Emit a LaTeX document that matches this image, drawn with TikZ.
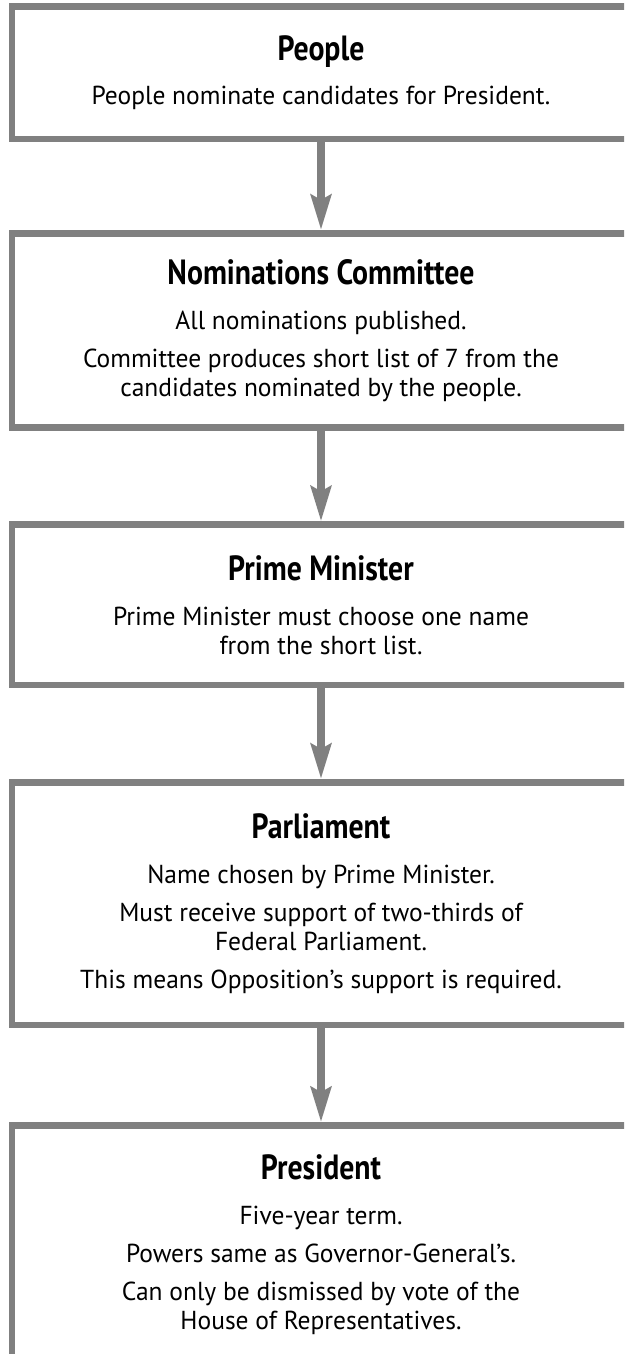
\documentclass[tikz,border=0pt]{standalone}
\usepackage{fontspec}
\setmainfont{PT Sans}[FakeStretch=0.98, BoldFeatures={FakeStretch=0.85}]
\usepackage{tikz}
\usetikzlibrary{arrows.meta}

\newcommand{\ttl}[1]{{\fontsize{35}{40}\selectfont\bfseries #1}}

\begin{document}
\begin{tikzpicture}[
    x=1pt, y=1pt,
    box/.style={draw=gray, line width=6.5pt, minimum width=618pt,
                minimum height=#1, align=center, inner sep=0pt,
                font=\fontsize{26}{29}\selectfont},
    arr/.style={-{Stealth[length=35pt, width=20pt, inset=5pt]}, draw=gray,
                fill=gray, line width=8pt},
]
    \clip (0,0) rectangle (624,-1354);
    \fill[white] (0,0) rectangle (624,-1354);

    \node[box=132.5pt] (people) at (321,-72.75)
        {\ttl{People}\\[15pt]
         People nominate candidates for President.};
    \node[box=194pt]   (nomin)  at (321,-330.3)
        {\ttl{Nominations Committee}\\[16pt]
         All nominations published.\\[9pt]
         Committee produces short list of 7 from the\\
         candidates nominated by the people.};
    \node[box=160.3pt] (pm)     at (321,-604.85)
        {\ttl{Prime Minister}\\[16pt]
         Prime Minister must choose one name\\
         from the short list.};
    \node[box=242.7pt] (parl)   at (321,-903.65)
        {\ttl{Parliament}\\[16pt]
         Name chosen by Prime Minister.\\[9pt]
         Must receive support of two-thirds of\\
         Federal Parliament.\\[9pt]
         This means Opposition's support is required.};
    \node[box=239pt]   (pres)   at (321,-1245)
        {\ttl{President}\\[16pt]
         Five-year term.\\[9pt]
         Powers same as Governor-General's.\\[9pt]
         Can only be dismissed by vote of the\\
         House of Representatives.};

    \draw[arr] (people) -- (nomin);
    \draw[arr] (nomin)  -- (pm);
    \draw[arr] (pm)     -- (parl);
    \draw[arr] (parl)   -- (pres);
\end{tikzpicture}
\end{document}
